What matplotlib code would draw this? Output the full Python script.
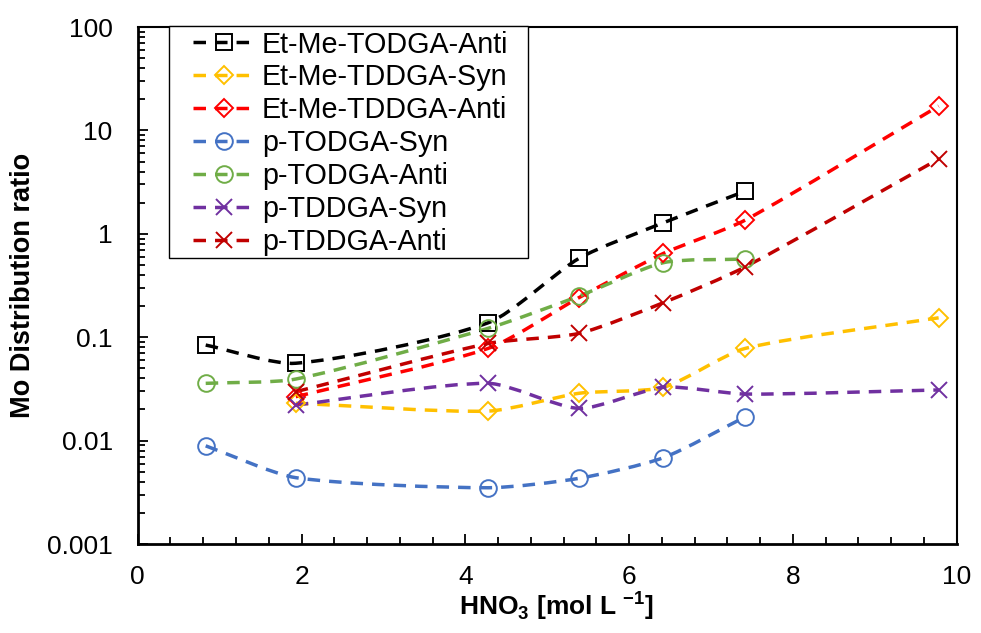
import numpy as np
import matplotlib
matplotlib.use("Agg")
import matplotlib.pyplot as plt
from matplotlib.path import Path
from matplotlib.patches import PathPatch, Rectangle
from matplotlib.lines import Line2D
from matplotlib.ticker import MultipleLocator, LogLocator, FuncFormatter, NullFormatter

plt.rcParams['font.family'] = ['Liberation Sans', 'DejaVu Sans']
plt.rcParams['mathtext.fontset'] = 'custom'
plt.rcParams['mathtext.rm'] = 'Liberation Sans'
plt.rcParams['mathtext.bf'] = 'Liberation Sans:bold'

# HNO3 concentrations [mol/L]
hno3_a = [0.83, 1.93, 4.28, 5.39, 6.42, 7.42]
hno3_b = [1.93, 4.28, 5.39, 6.42, 7.42, 9.78]

names = ["Et-Me-TODGA-Anti", "Et-Me-TDDGA-Syn", "Et-Me-TDDGA-Anti",
         "p-TODGA-Syn", "p-TODGA-Anti", "p-TDDGA-Syn", "p-TDDGA-Anti"]

etme_todga_anti = [0.084, 0.056, 0.138, 0.58, 1.28, 2.59]
etme_tddga_syn = [0.023, 0.0193, 0.0287, 0.0328, 0.078, 0.154]
etme_tddga_anti = [0.0266, 0.078, 0.242, 0.647, 1.36, 17.2]
p_todga_syn = [0.0089, 0.00438, 0.0035, 0.00432, 0.00684, 0.017]
p_todga_anti = [0.0358, 0.0394, 0.122, 0.25, 0.526, 0.57]
p_tddga_syn = [0.0221, 0.0358, 0.0205, 0.0328, 0.0282, 0.0309]
p_tddga_anti = [0.0297, 0.087, 0.109, 0.216, 0.48, 5.29]

xs = [hno3_a, hno3_b, hno3_b, hno3_a, hno3_a, hno3_b, hno3_b]
ys = [etme_todga_anti, etme_tddga_syn, etme_tddga_anti,
      p_todga_syn, p_todga_anti, p_tddga_syn, p_tddga_anti]
colors = ['black', '#FFC000', '#FF0000', '#4472C4', '#70AD47', '#7030A0', '#C00000']
markers = ['s', 'D', 'D', 'o', 'o', 'x', 'x']
msizes = [11.5, 9.3, 9.3, 12, 12, 12, 12]

lw = 2.5
dash = (0, (3.6, 2.6))

# rough pixel scale of the plot, used to shape the smoothing like excel does
PX_X = 81.9   # px per x unit
PX_DEC = 103.4  # px per decade


def smooth_path(x, y, k=0.7):
    p = np.column_stack([np.asarray(x, float) * PX_X, np.log10(y) * PX_DEC])
    n = len(p)
    verts = [p[0]]
    codes = [Path.MOVETO]
    tang = []
    for i in range(n):
        a = p[i - 1] if i > 0 else p[i]
        b = p[i + 1] if i < n - 1 else p[i]
        d = b - a
        tang.append(d / np.hypot(*d))
    for i in range(n - 1):
        seg = np.hypot(*(p[i + 1] - p[i]))
        c1 = p[i] + tang[i] * seg / 3.0 * k
        c2 = p[i + 1] - tang[i + 1] * seg / 3.0 * k
        verts += [c1, c2, p[i + 1]]
        codes += [Path.CURVE4] * 3
    verts = np.array(verts)
    verts[:, 0] = verts[:, 0] / PX_X
    verts[:, 1] = 10 ** (verts[:, 1] / PX_DEC)
    return Path(verts, codes)


fig = plt.figure(figsize=(9.81, 6.33), dpi=100)
ax = fig.add_axes([0.1404, 0.1406, 0.8348, 0.8167])
ax.set_yscale('log')

handles = []
for i in range(len(names)):
    patch = PathPatch(smooth_path(xs[i], ys[i]), fill=False, edgecolor=colors[i],
                      lw=lw, linestyle=dash, zorder=2)
    ax.add_patch(patch)
    ax.plot(xs[i], ys[i], ls='none', marker=markers[i], ms=msizes[i],
            mfc='none', mec=colors[i], mew=1.4, zorder=3)
    handles.append(Line2D([], [], color=colors[i], lw=lw, linestyle=dash,
                          marker=markers[i], ms=msizes[i], mfc='none',
                          mec=colors[i], mew=1.4))

ax.set_xlim(0, 10)
ax.set_ylim(0.001, 100)
ax.xaxis.set_major_locator(MultipleLocator(2))
ax.xaxis.set_minor_locator(MultipleLocator(0.4))
ax.yaxis.set_major_locator(LogLocator(base=10, numticks=10))
ax.yaxis.set_minor_locator(LogLocator(base=10, subs=np.arange(2, 10), numticks=20))
ax.yaxis.set_major_formatter(FuncFormatter(lambda v, pos: '{:g}'.format(v)))
ax.yaxis.set_minor_formatter(NullFormatter())

ax.tick_params(which='both', direction='in', top=False, right=False,
               labelsize=19, width=1.3)
ax.tick_params(which='major', length=7)
ax.tick_params(which='minor', length=5)
ax.tick_params(axis='x', pad=15)
ax.tick_params(axis='y', pad=18)

for s in ['left', 'bottom']:
    ax.spines[s].set_linewidth(2.0)
for s in ['top', 'right']:
    ax.spines[s].set_linewidth(1.5)

ax.set_xlabel(r'HNO$_{\mathbf{3}}$ [mol L $^{\mathbf{-1}}$]', fontsize=19,
              fontweight='bold')
ax.xaxis.set_label_coords(0.511, -0.088)
ax.set_ylabel('Mo Distribution ratio', fontsize=19.5, fontweight='bold')
ax.yaxis.set_label_coords(-0.124, 0.5)

# legend box (excel style, drawn separately so padding can match)
box = Rectangle((0.0382, 0.5532), 0.4384, 0.4488, transform=ax.transAxes,
                facecolor='white', edgecolor='black', lw=1.0, zorder=4,
                clip_on=False)
ax.add_patch(box)
leg = ax.legend(handles, names, loc='upper left', bbox_to_anchor=(0.0675, 0.9932),
                borderaxespad=0, borderpad=0, fontsize=20.7, frameon=False,
                handlelength=2.19, handletextpad=0.21, labelspacing=0.17)
leg.set_zorder(5)

fig.savefig('out.png', dpi=100)
